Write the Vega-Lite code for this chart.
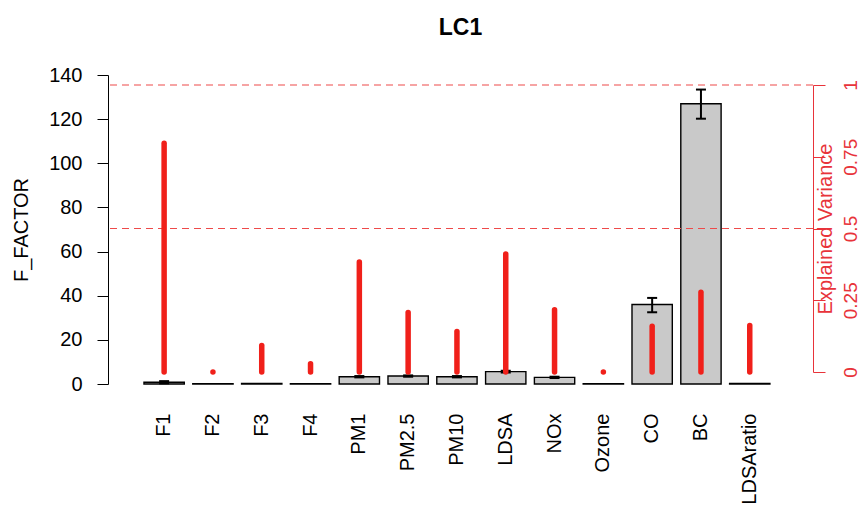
{
  "$schema": "https://vega.github.io/schema/vega-lite/v6.json",
  "autosize": "none",
  "width": 705,
  "height": 309,
  "padding": {"left": 108, "top": 75, "right": 48, "bottom": 126},
  "title": {
    "text": "LC1",
    "font": "Liberation Sans",
    "fontSize": 23,
    "fontWeight": "bold",
    "color": "#000000",
    "anchor": "middle",
    "offset": 25
  },
  "config": {
    "view": {"stroke": null},
    "font": "Liberation Sans"
  },
  "datasets": {
    "factors": [
      {"variable": "F1", "f": 0.8, "lo": 0.3, "hi": 1.3, "ev": 0.797},
      {"variable": "F2", "f": 0.15, "ev": 0},
      {"variable": "F3", "f": 0.2, "ev": 0.092},
      {"variable": "F4", "f": 0.15, "ev": 0.029},
      {"variable": "PM1", "f": 3.3, "lo": 3.0, "hi": 3.6, "ev": 0.383},
      {"variable": "PM2.5", "f": 3.6, "lo": 3.3, "hi": 3.9, "ev": 0.207},
      {"variable": "PM10", "f": 3.3, "lo": 3.0, "hi": 3.6, "ev": 0.141},
      {"variable": "LDSA", "f": 5.6, "lo": 5.2, "hi": 6.0, "ev": 0.411},
      {"variable": "NOx", "f": 3.0, "lo": 2.7, "hi": 3.3, "ev": 0.217},
      {"variable": "Ozone", "f": 0.15, "ev": 0},
      {"variable": "CO", "f": 36.0, "lo": 32.5, "hi": 39.0, "ev": 0.159},
      {"variable": "BC", "f": 127.0, "lo": 120.2, "hi": 133.4, "ev": 0.278},
      {"variable": "LDSAratio", "f": 0.3, "ev": 0.162}
    ],
    "thresholds": [{"ev": 0.5}, {"ev": 1}]
  },
  "layer": [
    {
      "data": {"name": "factors"},
      "layer": [
        {
          "mark": {"type": "bar", "fill": "#c9c9c9", "stroke": "#000000", "strokeWidth": 1.4},
          "encoding": {
            "x": {
              "field": "variable", "type": "nominal", "sort": null,
              "scale": {"paddingInner": 0.174, "paddingOuter": 0.81, "align": 0.455},
              "axis": {
                "title": null, "ticks": false, "domain": false,
                "labelAngle": -90, "labelAlign": "right", "labelBaseline": "middle",
                "labelFontSize": 20, "labelColor": "#000000", "labelPadding": 29
              }
            },
            "y": {
              "field": "f", "type": "quantitative",
              "scale": {"domain": [0, 140], "nice": false},
              "axis": {
                "title": "F_FACTOR", "titleFontSize": 20, "titleFontWeight": "normal",
                "titleColor": "#000000", "titlePadding": 17,
                "values": [0, 20, 40, 60, 80, 100, 120, 140],
                "grid": false, "tickSize": 11, "tickColor": "#000000", "domainColor": "#000000",
                "labelFontSize": 20, "labelColor": "#000000", "labelPadding": 15,
                "labelOverlap": false, "labelFlush": false
              }
            }
          }
        },
        {
          "transform": [{"filter": "isValid(datum.lo)"}],
          "mark": {"type": "rule", "stroke": "#000000", "strokeWidth": 2},
          "encoding": {
            "x": {"field": "variable", "type": "nominal", "sort": null},
            "y": {"field": "lo", "type": "quantitative"},
            "y2": {"field": "hi"}
          }
        },
        {
          "transform": [{"filter": "isValid(datum.lo)"}],
          "mark": {"type": "tick", "color": "#000000", "thickness": 2, "size": 10, "opacity": 1},
          "encoding": {
            "x": {"field": "variable", "type": "nominal", "sort": null},
            "y": {"field": "lo", "type": "quantitative"}
          }
        },
        {
          "transform": [{"filter": "isValid(datum.hi)"}],
          "mark": {"type": "tick", "color": "#000000", "thickness": 2, "size": 10, "opacity": 1},
          "encoding": {
            "x": {"field": "variable", "type": "nominal", "sort": null},
            "y": {"field": "hi", "type": "quantitative"}
          }
        }
      ]
    },
    {
      "layer": [
        {
          "data": {"name": "thresholds"},
          "mark": {"type": "rule", "stroke": "#ee4a4a", "strokeWidth": 1.2, "strokeDash": [7, 5]},
          "encoding": {
            "y": {
              "field": "ev", "type": "quantitative",
              "scale": {"domain": [0, 1], "nice": false, "zero": false, "range": [297, 10]},
              "axis": {
                "orient": "right",
                "title": "Explained Variance", "titleAngle": -90, "titleBaseline": "top",
                "titleFontSize": 20, "titleFontWeight": "normal", "titleColor": "#e8333a",
                "titlePadding": -45,
                "values": [0, 0.25, 0.5, 0.75, 1], "labelExpr": "'' + datum.value",
                "grid": false, "tickSize": 12, "tickColor": "#e8333a", "domainColor": "#e8333a",
                "labelFontSize": 19, "labelColor": "#e8333a", "labelAngle": -90,
                "labelAlign": "center", "labelBaseline": "top", "labelPadding": 16,
                "labelOverlap": false, "labelFlush": false
              }
            }
          }
        },
        {
          "data": {"name": "factors"},
          "mark": {"type": "rule", "stroke": "#f0201a", "strokeWidth": 5.5, "strokeCap": "round"},
          "encoding": {
            "x": {"field": "variable", "type": "nominal", "sort": null},
            "y": {
              "field": "ev", "type": "quantitative",
              "scale": {"domain": [0, 1], "nice": false, "zero": false, "range": [297, 10]},
              "axis": {
                "orient": "right",
                "title": "Explained Variance", "titleAngle": -90, "titleBaseline": "top",
                "titleFontSize": 20, "titleFontWeight": "normal", "titleColor": "#e8333a",
                "titlePadding": -45,
                "values": [0, 0.25, 0.5, 0.75, 1], "labelExpr": "'' + datum.value",
                "grid": false, "tickSize": 12, "tickColor": "#e8333a", "domainColor": "#e8333a",
                "labelFontSize": 19, "labelColor": "#e8333a", "labelAngle": -90,
                "labelAlign": "center", "labelBaseline": "top", "labelPadding": 16,
                "labelOverlap": false, "labelFlush": false
              }
            },
            "y2": {"datum": 0}
          }
        }
      ]
    }
  ],
  "resolve": {"scale": {"y": "independent"}}
}
